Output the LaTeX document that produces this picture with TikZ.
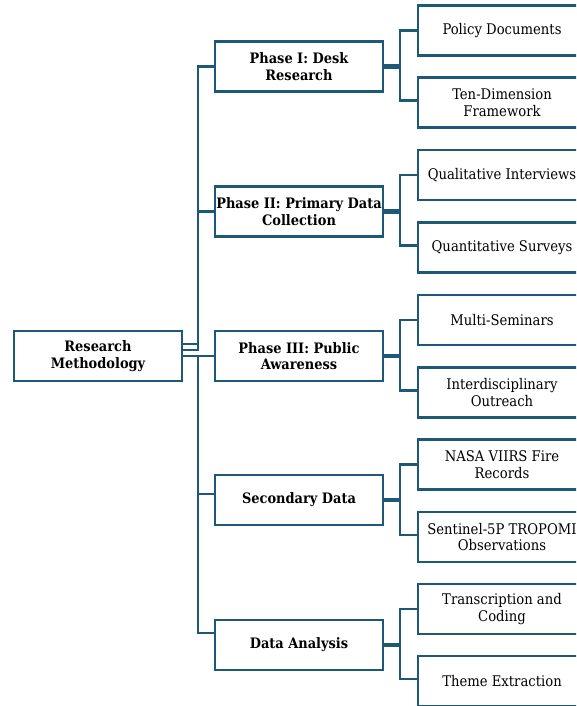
\documentclass[tikz,border=0pt]{standalone}
\usepackage{fontspec}
\setmainfont{DejaVu Serif Condensed}
\definecolor{edge}{RGB}{29,88,118}
\begin{document}
\begin{tikzpicture}[x=0.75pt,y=-0.75pt,
  box/.style={draw=edge,line width=1.8pt,fill=white,minimum width=126pt,minimum height=37.5pt,align=center,inner sep=0pt,text=black,font=\fontsize{11}{12.5}\selectfont},
  phase/.style={box,font=\fontsize{10.8}{12.5}\selectfont\bfseries},
  conn/.style={draw=edge,line width=1.7pt}]
\useasboundingbox (0,0) rectangle (576,706);
\clip (0,0) rectangle (576,706);
% root
\node[phase] (root) at (98,356) {Research\\Methodology};
% phases
\node[phase] (p1) at (299,66.5) {Phase I: Desk\\Research};
\node[phase] (p2) at (299,211.5) {Phase II: Primary Data\\Collection};
\node[phase] (p3) at (299,356) {Phase III: Public\\Awareness};
\node[phase] (p4) at (299,500) {Secondary Data};
\node[phase] (p5) at (299,645) {Data Analysis};
% children
\node[box] (c1) at (502,30.5) {Policy Documents};
\node[box] (c2) at (502,102.5) {Ten-Dimension\\Framework};
\node[box] (c3) at (502,175) {Qualitative Interviews};
\node[box] (c4) at (502,247.5) {Quantitative Surveys};
\node[box] (c5) at (502,320) {Multi-Seminars};
\node[box] (c6) at (502,392.5) {Interdisciplinary\\Outreach};
\node[box] (c7) at (502,464.5) {NASA VIIRS Fire\\Records};
\node[box] (c8) at (502,537) {Sentinel-5P TROPOMI\\Observations};
\node[box] (c9) at (502,609) {Transcription and\\Coding};
\node[box] (c10) at (502,681) {Theme Extraction};
% trunk
\coordinate (t) at (198,356);
\draw[conn] ([yshift=9pt]root.east) -- ([yshift=9pt]root.east -| t) |- (p1.west);
\draw[conn] ([yshift=4.5pt]root.east) -- ([yshift=4.5pt]root.east -| t) |- (p2.west);
\draw[conn] (root.east) -- (p3.west);
\draw[conn] (root.east) -- (root.east -| t) |- ([yshift=4.5pt]p4.west);
\draw[conn] (root.east) -- (root.east -| t) |- ([yshift=9pt]p5.west);
% phase to children
\foreach \p/\a/\b in {p1/c1/c2, p2/c3/c4, p3/c5/c6, p4/c7/c8, p5/c9/c10}{
  \draw[conn] ([yshift=0.75pt]\p.east) -- ++(16,0) |- (\a.west);
  \draw[conn] ([yshift=-0.75pt]\p.east) -- ++(16,0) |- ([yshift=1.5pt]\b.west);
}
\end{tikzpicture}
\end{document}
